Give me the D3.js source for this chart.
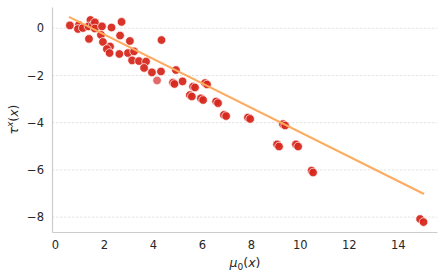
<!DOCTYPE html>
<html><head><meta charset="utf-8">
<script src="https://cdn.jsdelivr.net/npm/d3@7"></script>
<style>body{margin:0;background:#fff}svg{display:block;font-family:"DejaVu Sans",sans-serif}</style>
</head><body><svg id="c" width="448" height="279"></svg>
<script>
const mu0 = [0.61,0.98,0.94,1.14,1.45,1.37,1.55,1.63,1.63,1.92,2.31,2.72,1.39,1.88,1.96,2.66,2.25,2.12,2.23,2.63,2.98,3.06,3.23,3.15,3.43,3.72,3.64,3.96,4.33,4.35,4.17,4.94,4.82,5.21,5.64,6.13,5.51,5.96,6.58,6.90,7.88,9.31,9.07,9.84,10.48,14.91,15.05,
  5.72,6.21,5.59,6.05,6.66,6.99,7.97,9.40,9.15,9.93,10.54,4.88];
const tau = [0.12,0.14,-0.03,0.01,0.35,0.08,0.14,0.25,-0.01,0.08,0.03,0.27,-0.45,-0.28,-0.58,-0.31,-0.77,-0.88,-1.05,-1.09,-1.05,-0.54,-0.98,-1.36,-1.39,-1.41,-1.68,-1.87,-1.83,-0.50,-2.21,-1.77,-2.30,-2.25,-2.47,-2.32,-2.83,-2.97,-3.10,-3.67,-3.78,-4.06,-4.92,-4.92,-6.03,-8.08,-8.21,
  -2.51,-2.38,-2.89,-3.04,-3.17,-3.72,-3.84,-4.12,-5.01,-5.01,-6.11,-2.36];
const light = [30];
const fitX = [0.57, 15.07];
const fitY = [0.48, -7.02];
const xTicks = [0,2,4,6,8,10,12,14];
const yTicks = [0,-2,-4,-6,-8];

const svg = d3.select("#c");
const x = d3.scaleLinear().domain([-0.12,15.6]).range([52,437]);
const y = d3.scaleLinear().domain([0.9,-8.63]).range([7,232]);

// grid
svg.append("g").selectAll("line").data(yTicks).join("line")
  .attr("x1",52).attr("x2",437).attr("y1",d=>y(d)).attr("y2",d=>y(d))
  .attr("stroke","#dddddd").attr("stroke-width",0.8).attr("stroke-dasharray","2.5,1.5");

// axes
const xa = svg.append("g").attr("transform","translate(0,232)")
  .call(d3.axisBottom(x).tickValues(xTicks).tickSize(0).tickPadding(9).tickFormat(d3.format("d")));
const ya = svg.append("g").attr("transform","translate(52,0)")
  .call(d3.axisLeft(y).tickValues(yTicks).tickSize(0).tickPadding(8).tickFormat(d=>d<0?"\u2212"+Math.abs(d):d));
[xa,ya].forEach(a=>{
  a.select(".domain").attr("stroke","#cccccc").attr("stroke-width",1.2);
  a.selectAll("text").attr("fill","#262626").attr("font-size",11.5).attr("font-family","DejaVu Sans");
});

// points
const pts = mu0.map((v,i)=>({x:v,y:tau[i],l:light.includes(i)}));
svg.append("g").selectAll("circle").data(pts).join("circle")
  .attr("cx",d=>x(d.x)).attr("cy",d=>y(d.y)).attr("r",4.3)
  .attr("fill",d=>d.l?"#e06262":"#d7291f").attr("fill-opacity",0.95)
  .attr("stroke","#ffffff").attr("stroke-width",0.7);

// fit line
svg.append("path").datum(fitX.map((v,i)=>[v,fitY[i]]))
  .attr("d",d3.line().x(d=>x(d[0])).y(d=>y(d[1])))
  .attr("stroke","#ffaa5c").attr("stroke-width",2).attr("fill","none");

// labels
const xl = svg.append("text").attr("x",245).attr("y",267).attr("text-anchor","middle")
  .attr("fill","#262626").attr("font-size",12.5);
xl.append("tspan").attr("font-style","italic").text("\u03bc");
xl.append("tspan").attr("font-size",9).attr("dy",2.5).text("0");
xl.append("tspan").attr("dy",-2.5).text("(");
xl.append("tspan").attr("font-style","italic").text("x");
xl.append("tspan").text(")");

const yl = svg.append("text").attr("transform","translate(18,119.5) rotate(-90)").attr("text-anchor","middle")
  .attr("fill","#262626").attr("font-size",12.5);
yl.append("tspan").attr("font-style","italic").text("\u03c4");
yl.append("tspan").attr("font-style","italic").attr("font-size",9).attr("dy",-5).text("x");
yl.append("tspan").attr("dy",5).text("(");
yl.append("tspan").attr("font-style","italic").text("x");
yl.append("tspan").text(")");
</script></body></html>
